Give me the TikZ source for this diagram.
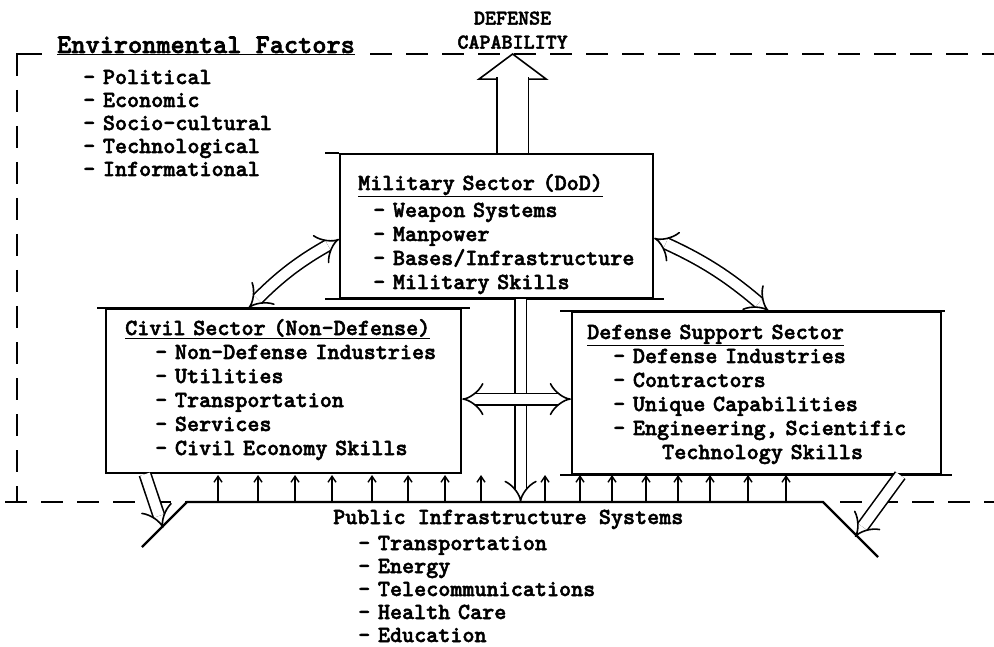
\documentclass[tikz,border=0pt]{standalone}
\usepackage{fontspec}
\usetikzlibrary{positioning,arrows.meta}
\newfontfamily\twfont{lmmonolt10-bold.otf}[FakeBold=2.2]
\newcommand{\boxfont}{\fontsize{23}{24}\selectfont\twfont}
\newcommand{\listfont}{\fontsize{23}{23}\selectfont\twfont}
\newcommand{\envfont}{\fontsize{27}{30}\selectfont\twfont}
\newcommand{\capfont}{\fontsize{21}{24}\selectfont\twfont}

\begin{document}
\begin{tikzpicture}[x=1pt,y=-1pt,
box/.style={draw,line width=2.2pt,rectangle,anchor=north west,inner sep=0pt},
txt/.style={anchor=base west,inner sep=0pt,align=left,text width=#1,font=\boxfont},
txt/.default=340pt,
frame/.style={line width=2pt,dash pattern=on 22pt off 14pt},
edge/.style={line width=2.2pt},
hollow/.style={double,double distance=10pt,line width=1.6pt},
up/.style={line width=1.4pt,-{Straight Barb[length=6pt,width=8pt]}}]
\useasboundingbox (0,0) rectangle (994,647);

% the three sectors
\node (mil) [box,minimum width=313pt,minimum height=144pt] at (339,153) {};
\node (civ) [box,minimum width=355pt,minimum height=164pt] at (105,308) {};
\node (def) [box,minimum width=369pt,minimum height=162pt] at (571,311) {};
\draw[edge] ([xshift=-14pt]mil.north west) -- (mil.north west);
\draw[edge] ([xshift=-14pt]mil.south west) -- ([xshift=10pt]mil.south east);
\draw[edge] ([xshift=-8pt]civ.north west) -- ([xshift=8pt]civ.north east);
\draw[edge] ([xshift=-11pt]def.north west) -- ([xshift=3pt]def.north east);
\draw[edge] ([xshift=-11pt]def.south west) -- ([xshift=10pt]def.south east);

\node (miltxt) [txt] at ([shift={(19pt,-37pt)}]mil.north west) {\underline{Military Sector (DoD)}\\[3pt]
\hspace*{15pt}- Weapon Systems\\
\hspace*{15pt}- Manpower\\
\hspace*{15pt}- Bases/Infrastructure\\
\hspace*{15pt}- Military Skills};
\node (civtxt) [txt] at ([shift={(20pt,-27pt)}]civ.north west) {\underline{Civil Sector (Non-Defense)}\\
\hspace*{30pt}- Non-Defense Industries\\
\hspace*{30pt}- Utilities\\
\hspace*{30pt}- Transportation\\
\hspace*{30pt}- Services\\
\hspace*{30pt}- Civil Economy Skills};
\node (deftxt) [txt] at ([shift={(16pt,-28pt)}]def.north west) {\underline{Defense Support Sector}\\
\hspace*{26pt}- Defense Industries\\
\hspace*{26pt}- Contractors\\
\hspace*{26pt}- Unique Capabilities\\
\hspace*{26pt}- Engineering, Scientific\\
\hspace*{75pt}Technology Skills};

% environment
\node (env) [anchor=base west,inner sep=0pt,font=\envfont] at (57,53) {\underline{Environmental Factors}};
\node (envlist) [txt=250pt,font=\listfont] at ([shift={(26pt,-31pt)}]env.base west) {- Political\\- Economic\\- Socio-cultural\\- Technological\\- Informational};
\draw[edge] (17,60) -- (17,54) -- (42,54);
\draw[frame] (17,54) -- (17,502);
\draw[frame] (370,54) -- (994,54);

% public infrastructure
\coordinate (barL) at (187,502);
\coordinate (barR) at (823,502);
\draw[edge] (142,547) -- (barL) -- (barR) -- (878,557);
\draw[frame] (5,502) -- (barL);
\draw[frame] (840,502) -- (994,502);
\node (infra) [anchor=base west,inner sep=0pt,font=\boxfont] at (333,524) {Public Infrastructure Systems};
\node (infralist) [txt=300pt,font=\listfont] at ([shift={(25pt,-26pt)}]infra.base west) {- Transportation\\- Energy\\- Telecommunications\\- Health Care\\- Education};

\foreach \x in {218,258,295,332,372,408,445,481,545,580,612,646,678,710,748,786}
  \draw[up] (\x,0 |- barL) -- ++(0,-27);

% defense capability
\coordinate (milup) at ([xshift=16pt]mil.north);
\coordinate (captip) at (milup |- 0,53);
\coordinate (capbase) at (milup |- 0,77);
\node (cap) [above=4pt of captip,inner sep=0pt,align=center,font=\capfont] {DEFENSE\\CAPABILITY};
\draw[hollow,double distance=30pt,-{Triangle[open,fill=white,length=27pt,width=72pt]}] (milup) -- (captip);
\draw[hollow,double distance=30pt] (milup) -- (capbase);

% flows between sectors
\coordinate (mildn) at ([xshift=24pt]mil.south);
\draw[hollow,-{Implies}] (mildn) -- (mildn |- barL);
\draw[hollow,{Implies}-{Implies}] ([xshift=-35pt]civ.north) to[bend left=8] ([yshift=-13pt]mil.west);
\draw[hollow,{Implies}-{Implies}] ([yshift=-12pt]mil.east) to[bend left=8] ([xshift=12pt]def.north);
\draw[hollow,{Implies}-{Implies}] ([yshift=-8pt]civ.east) -- ([yshift=-6pt]def.west);
\coordinate (lend) at (163,528);
\coordinate (rend) at (855,537);
\draw[hollow,-{Implies}] ([xshift=40pt]civ.south west) -- (lend);
\draw[hollow,-{Implies}] ([xshift=-42pt]def.south east) -- (rend);
\end{tikzpicture}
\end{document}
